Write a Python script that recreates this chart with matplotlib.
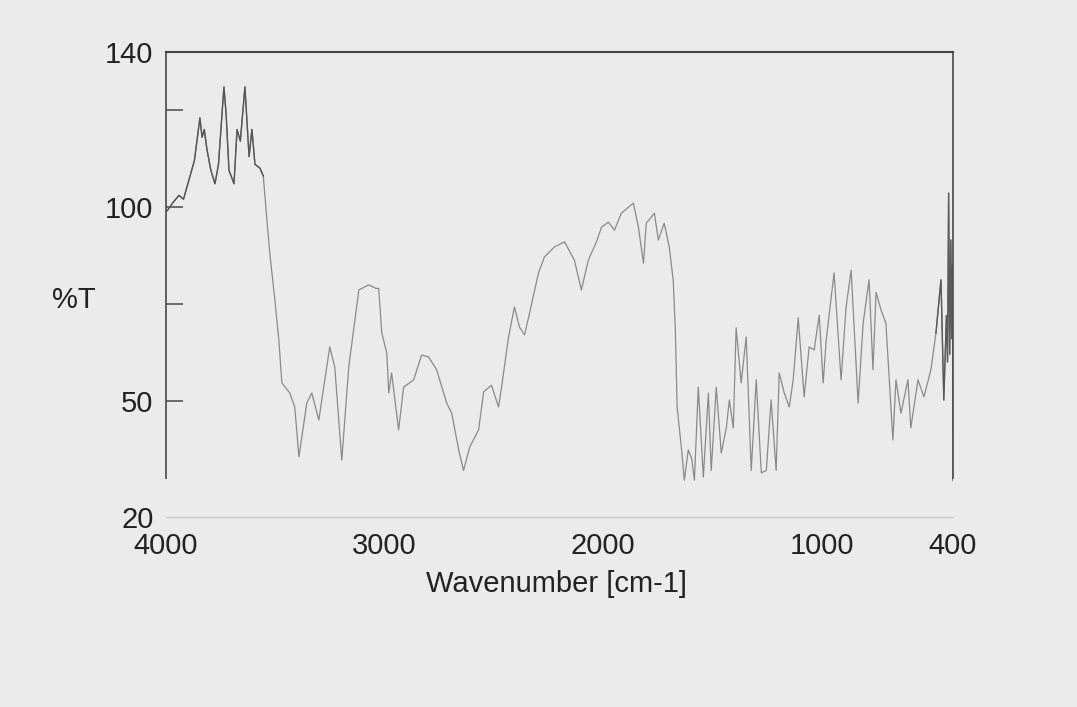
import matplotlib
import matplotlib.pyplot as plt
import numpy as np

matplotlib.use('Agg')
plt.rcParams['font.family'] = ['Liberation Sans', 'DejaVu Sans']

# spectrum: wavenumber [cm-1] and %T
WAVENUMBER = [4000, 3995, 3970, 3941, 3920, 3890, 3870, 3845, 3835, 3825, 3813, 3795,
              3776, 3760, 3735, 3725, 3712, 3689, 3675, 3660, 3639, 3620, 3607, 3593,
              3570, 3555, 3539, 3525, 3502, 3484, 3470, 3434, 3411, 3392, 3356, 3333,
              3301, 3251, 3228, 3196, 3164, 3118, 3073, 3040, 3027, 3013, 2990, 2981,
              2968, 2936, 2913, 2867, 2831, 2799, 2762, 2716, 2693, 2660, 2639, 2611,
              2570, 2547, 2511, 2479, 2465, 2433, 2406, 2383, 2360, 2337, 2296, 2269,
              2223, 2177, 2132, 2100, 2068, 2031, 2008, 1976, 1949, 1917, 1862, 1839,
              1816, 1803, 1766, 1748, 1721, 1698, 1680, 1670, 1662, 1652, 1640, 1629,
              1611, 1595, 1583, 1565, 1542, 1519, 1506, 1483, 1460, 1437, 1423, 1405,
              1392, 1369, 1346, 1323, 1300, 1277, 1254, 1232, 1209, 1195, 1172, 1149,
              1131, 1108, 1081, 1058, 1035, 1012, 994, 980, 944, 912, 889, 866,
              834, 811, 784, 766, 752, 729, 707, 675, 661, 638, 606, 593,
              560, 533, 501, 478, 455, 442, 430, 425, 420, 415, 410, 406,
              402, 400]
TRANSMITTANCE = [99, 99, 101, 103, 102, 108, 112, 123, 118, 120, 115, 109.5,
                 106, 111, 131, 124, 109.5, 106, 120, 117, 131, 113, 120, 111,
                 110, 108, 97, 88, 76, 65.7, 54.6, 52, 48.4, 35.5, 49.4, 52,
                 45, 63.9, 58.7, 34.7, 58.7, 78.6, 79.9, 79, 79, 67.5, 62.3, 52,
                 57.2, 42.5, 53.5, 55.4, 61.8, 61.3, 58, 49.4, 46.8, 37, 32, 38,
                 42.5, 52.3, 54, 48.4, 53.5, 66.5, 74.2, 69, 67, 72.6, 83, 87.1,
                 89.7, 91, 86.3, 78.6, 86.3, 91, 94.8, 96.1, 94, 98.4, 101, 94.8,
                 85.5, 95.8, 98.4, 91.5, 95.8, 89.7, 81.2, 68, 48.4, 43, 36.5, 29.5,
                 37.3, 35, 29.5, 53.5, 30.3, 52, 32, 53.5, 36.5, 43, 50.2, 43,
                 68.8, 54.6, 66.5, 32, 55.4, 31.4, 32, 50.2, 32, 57.2, 52, 48.4,
                 55.4, 71.4, 51, 63.9, 63.1, 72.1, 54.6, 65.7, 83, 55.4, 74.2, 83.7,
                 49.4, 70, 81.2, 58, 78, 73.4, 70, 39.9, 55.4, 46.8, 55.4, 43,
                 55.4, 51, 58, 67.5, 81.2, 50.2, 72, 60, 103.6, 62, 91.5, 66,
                 85, 29.5]

X_TICKS = [4000, 3000, 2000, 1000, 400]
Y_LABELS = [140, 100, 50, 20]
Y_MARKS = [125, 100, 75, 50]

BG = '#ebebeb'

fig = plt.figure(figsize=(10.77, 7.07), dpi=100, facecolor=BG)
ax = fig.add_axes([166 / 1077, 1 - 517 / 707, 787 / 1077, 465 / 707])
ax.set_facecolor(BG)

wn = np.array(WAVENUMBER)
tr = np.array(TRANSMITTANCE)
ax.plot(wn, tr, color='#8a8a8a', lw=0.9)
# the scan is darker at both ends of the trace
left = wn >= 3540
right = wn <= 480
ax.plot(wn[left], tr[left], color='#555555', lw=1.0)
ax.plot(wn[right], tr[right], color='#5a5a5a', lw=1.0)

ax.set_xlim(4000, 400)
ax.set_ylim(20, 140)

ax.set_xticks(X_TICKS)
ax.set_yticks(Y_LABELS)
ax.set_yticks(Y_MARKS, minor=True)
ax.yaxis.remove_overlapping_locs = False
ax.tick_params(axis='x', length=0, pad=11, labelsize=21, labelcolor='#222222')
ax.tick_params(axis='y', which='major', length=0, pad=9, labelsize=21,
               labelcolor='#222222')
ax.tick_params(axis='y', which='minor', direction='in', length=12, width=1.2,
               color='#555555')

for side in ['left', 'right']:
    ax.spines[side].set_bounds(30, 140)
    ax.spines[side].set_color('#555555')
    ax.spines[side].set_linewidth(1.3)
ax.spines['top'].set_color('#444444')
ax.spines['top'].set_linewidth(1.5)
ax.spines['bottom'].set_color('#cccccc')
ax.spines['bottom'].set_linewidth(1.0)

fig.text(52 / 1077, 1 - 300 / 707, '%T', fontsize=21, color='#222222',
         ha='left', va='center')
fig.text(557 / 1077, 1 - 584 / 707, 'Wavenumber [cm-1]', fontsize=21,
         color='#222222', ha='center', va='center')

fig.savefig('out.png', dpi=100, facecolor=BG)
